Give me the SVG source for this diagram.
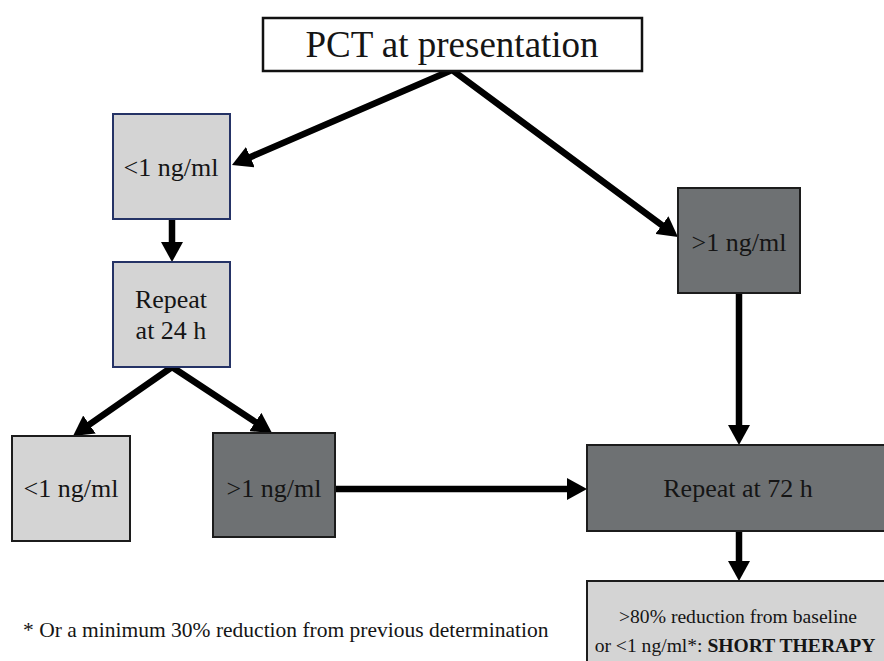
<svg xmlns="http://www.w3.org/2000/svg" width="884" height="661" viewBox="0 0 884 661">
<style>
text{font-family:'Liberation Serif','Times New Roman','DejaVu Serif',serif;fill:#151515;text-anchor:middle}
.light{fill:#d4d4d4;stroke:#1c1c1c;stroke-width:2}
.lightb{fill:#d4d4d4;stroke:#253366;stroke-width:2}
.dark{fill:#6e7173;stroke:#1c1c1c;stroke-width:2}
.n{font-size:26px}
.conn{fill:none;stroke:#000;stroke-width:6.5;stroke-linejoin:miter}
</style>
<defs>
<marker id="ah" markerUnits="userSpaceOnUse" markerWidth="20" markerHeight="22" refX="2" refY="11" orient="auto-start-reverse" viewBox="0 0 20 22">
<path d="M0,0 L20,11 L0,22 z" fill="#000"/>
</marker>
</defs>
<rect width="884" height="661" fill="#fff"/>
<g id="connectors">
<path class="conn" d="M248.5,157.9 L452,70 L663.5,226.3" marker-start="url(#ah)" marker-end="url(#ah)"/>
<path class="conn" d="M172,219 L172,244" marker-end="url(#ah)"/>
<path class="conn" d="M87.8,425.7 L172,367 L257,423.1" marker-start="url(#ah)" marker-end="url(#ah)"/>
<path class="conn" d="M739,293 L739,427" marker-end="url(#ah)"/>
<path class="conn" d="M335,489 L569,489" marker-end="url(#ah)"/>
<path class="conn" d="M739,531 L739,563" marker-end="url(#ah)"/>
</g>
<g font-family="Liberation Serif, serif">
<g id="top">
<rect x="263" y="18" width="379" height="53" fill="#fff" stroke="#111" stroke-width="2.5"/>
<text x="452" y="57" font-size="37">PCT at presentation</text>
</g>
<g id="low1">
<rect class="lightb" x="113" y="114" width="117" height="105"/>
<text class="n" x="171" y="176">&lt;1 ng/ml</text>
</g>
<g id="rep24">
<rect class="lightb" x="113" y="262" width="117" height="105"/>
<text class="n" x="171" y="308">Repeat</text>
<text class="n" x="171" y="339">at 24 h</text>
</g>
<g id="low2">
<rect class="light" x="12" y="436" width="118" height="105"/>
<text class="n" x="71" y="497">&lt;1 ng/ml</text>
</g>
<g id="high2">
<rect class="dark" x="213" y="433" width="122" height="104"/>
<text class="n" x="274" y="497">&gt;1 ng/ml</text>
</g>
<g id="high1">
<rect class="dark" x="678" y="188" width="122" height="105"/>
<text class="n" x="739" y="251">&gt;1 ng/ml</text>
</g>
<g id="rep72">
<rect class="dark" x="587" y="445" width="300" height="86"/>
<text class="n" x="738" y="497">Repeat at 72 h</text>
</g>
<g id="short">
<rect class="light" x="587" y="581" width="300" height="90"/>
<text x="738" y="623" font-size="19.6">&gt;80% reduction from baseline</text>
<text x="735" y="652" font-size="19.6">or &lt;1 ng/ml*: <tspan font-weight="bold">SHORT THERAPY</tspan></text>
</g>
<text x="23" y="637" font-size="21.5" style="text-anchor:start">* Or a minimum 30% reduction from previous determination</text>
</g>
</svg>
